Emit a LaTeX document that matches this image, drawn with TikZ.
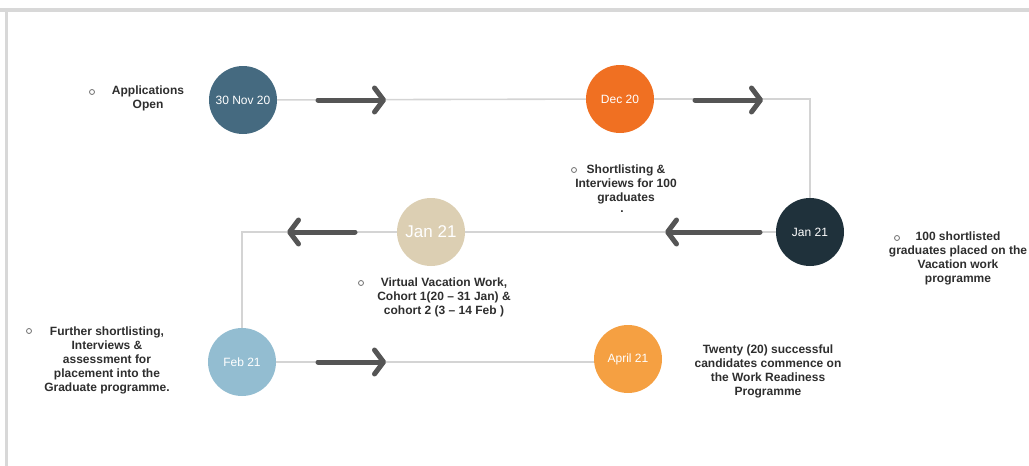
\documentclass[tikz,border=0pt]{standalone}
\usepackage{fontspec}
\setmainfont{Liberation Sans}
\usetikzlibrary{arrows.meta}
\definecolor{steel}{HTML}{456A80}
\definecolor{orangedark}{HTML}{F07022}
\definecolor{navy}{HTML}{1F313B}
\definecolor{beige}{HTML}{DCCFB3}
\definecolor{skyblue}{HTML}{93BDD1}
\definecolor{orangelight}{HTML}{F5A042}
\definecolor{linegrey}{HTML}{D4D4D4}
\definecolor{arrowgrey}{HTML}{555555}
\definecolor{textgrey}{HTML}{2E2E2E}
\definecolor{framegrey}{HTML}{D8D8D8}
\tikzset{
	date/.style={circle, minimum size=68pt, inner sep=0pt, text=white, font=\fontsize{12}{14}\selectfont},
	link/.style={draw=linegrey, line width=1.6pt},
	arrowbar/.style={draw=arrowgrey, line width=5pt, line cap=round, -{Straight Barb[length=9pt, width=24pt, round]}},
	note/.style={align=center, text=textgrey, font=\fontsize{12}{14}\bfseries\selectfont, inner sep=0pt},
	bullet/.style={circle, draw=textgrey!70, line width=0.8pt, minimum size=5pt, inner sep=0pt}
}

\begin{document}
\begin{tikzpicture}[x=1pt, y=-1pt]
		\useasboundingbox (0, 0) rectangle (1029, 466);
		\clip (0, 0) rectangle (1029, 466);
		\draw[framegrey, line width=4pt] (0, 10) -- (1029, 10);
		\draw[framegrey, line width=3pt] (6, 10) -- (6, 466);

		\node[date, fill=steel] (nov) at (243, 100) {30 Nov 20};
		\node[date, fill=orangedark] (dec) at (620, 99) {Dec 20};
		\node[date, fill=navy] (jan) at (810, 232) {Jan 21};
		\node[date, fill=beige, font=\fontsize{17}{19}\selectfont] (vac) at (431, 232) {Jan 21};
		\node[date, fill=skyblue] (feb) at (242, 362) {Feb 21};
		\node[date, fill=orangelight] (apr) at (628, 359) {April 21};

		\draw[link] (nov) -- (dec);
		\draw[link] (dec.east) -| (jan.north);
		\draw[link] (jan) -- (vac);
		\draw[link] (vac.west) -| (feb.north);
		\draw[link] (feb.east) -- (apr.west |- feb.east);

		\foreach \a/\b in {{(318, 100)}/{(386, 100)}, {(695, 100)}/{(763, 100)}, {(760, 232)}/{(665, 232)}, {(355, 232)}/{(287, 232)}, {(318, 362)}/{(386, 362)}}
			\draw[arrowbar] \a -- \b;

		\node[note] (open) at (148, 98) {Applications\\Open};
		\node[note] (short) at (626, 184) {Shortlisting \&\\Interviews for 100\\graduates};
		\node[note] (dot) at (622, 212) {.};
		\node[note] (placed) at (958, 258) {100 shortlisted\\graduates placed on the\\Vacation work\\programme};
		\node[note] (work) at (444, 297) {Virtual Vacation Work,\\Cohort 1(20 -- 31 Jan) \&\\cohort 2 (3 -- 14 Feb )};
		\node[note] (further) at (107, 360) {Further shortlisting,\\Interviews \&\\assessment for\\placement into the\\Graduate programme.};
		\node[note] (twenty) at (768, 371) {Twenty (20) successful\\candidates commence on\\the Work Readiness\\Programme};

		\foreach \p in {(92, 92), (574, 170), (897, 238), (361, 283), (29, 331)}
			\node[bullet] at \p {};
	\end{tikzpicture}
\end{document}
